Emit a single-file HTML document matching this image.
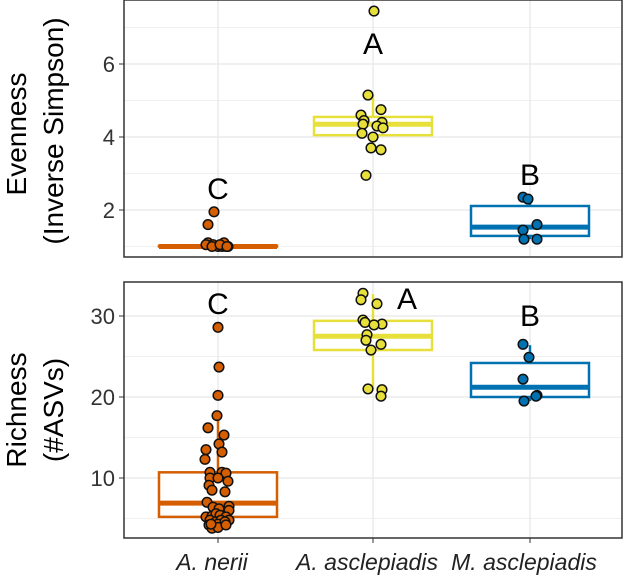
<!DOCTYPE html>
<html><head><meta charset="utf-8"><style>
html,body{margin:0;padding:0;background:#fff;}
svg{display:block;font-family:"Liberation Sans",Arial,sans-serif;}
</style></head><body>
<svg id="chart" width="629" height="580" viewBox="0 0 629 580" xmlns="http://www.w3.org/2000/svg"></svg>
<script>
const categories = ["A. nerii", "A. asclepiadis", "M. asclepiadis"];
const colors = ["#D55E00", "#E8E03A", "#0072B2"];
// Evenness panel
const evenTicks = [2, 4, 6];
const evenBoxes = [ // [lowWhisker, q1, median, q3, highWhisker]
  [1.0, 1.0, 1.0, 1.02, 1.05],
  [3.65, 4.05, 4.35, 4.55, 5.15],
  [1.2, 1.29, 1.53, 2.11, 2.35]
];
const evenPoints = [
  [1.95, 1.6, 1.1, 1.05, 1.0, 1.0, 1.0, 1.05, 1.1, 1.0, 1.0, 1.05, 1.0],
  [7.45, 5.15, 4.75, 4.6, 4.45, 4.4, 4.35, 4.3, 4.25, 4.1, 4.0, 3.7, 3.65, 2.95],
  [2.35, 2.3, 1.6, 1.45, 1.2, 1.2]
];
const evenJitter = [
  [-4, -10, -10, -5, 0, 4, 8, -12, 6, 10, -6, 2, 9],
  [1, -5, 8, -12, -9, 9, -10, 4, 10, -11, 0, -2, 8, -7],
  [-7, -2, 7, -7, -6, 7]
];
const evenLetters = ["C", "A", "B"];
const evenLetterVals = [2.6, 6.58, 2.99];
// Richness panel
const richTicks = [10, 20, 30];
const richBoxes = [
  [3.6, 5.2, 6.9, 10.7, 17.4],
  [20.8, 25.8, 27.5, 29.4, 32.7],
  [19.5, 20.0, 21.2, 24.2, 26.4]
];
const richPoints = [
  [28.6, 23.7, 20.2, 17.7, 16.2, 15.3, 14.2, 13.2, 13.5, 12.3, 10.7, 10.7, 10.6, 10.0, 10.0, 9.6, 9.1, 8.5, 8.3, 7.0, 6.4, 6.2, 6.5, 6.0, 5.2, 5.3, 5.6, 5.4, 5.2, 4.8, 4.6, 4.8, 4.8, 4.2, 4.3, 4.6, 3.8, 3.9, 4.2, 4.3],
  [32.8, 32.0, 31.5, 29.5, 29.2, 29.0, 28.9, 27.7, 27.0, 26.5, 25.8, 21.0, 20.9, 20.1],
  [26.5, 24.9, 22.2, 20.2, 20.1, 19.5]
];
const richJitter = [
  [0, 1, 0, -1, -10, 6, 1, 4, -12, -13, -8, 4, 8, -8, 0, 10, -9, -6, 7, -11, -5, 1, 11, 11, -12, -6, -2, 2, 8, -8, -2, 3, 11, -9, 0, 7, -6, 0, 8, -7],
  [-10, -12, 4, -10, -8, 9, 1, -6, -7, 8, -2, -5, 9, 8],
  [-7, -1, -7, 7, 6, -6]
];
const richLetters = ["C", "A", "B"];
const richLetterVals = [31.6, 32.2, 30.1];

const NS = "http://www.w3.org/2000/svg";
const svg = document.getElementById("chart");
function mk(tag, attrs, parent) {
  const e = document.createElementNS(NS, tag);
  for (const k in attrs) e.setAttribute(k, attrs[k]);
  (parent || svg).appendChild(e);
  return e;
}
const X0 = 124, X1 = 622;
const catX = [218, 373, 530];
const xScale = i => catX[i];
const halfW = 59;

function panel(name, top, bottom, yScale, ticks, minor, boxes, points, jitter, letters, letterVals, titles) {
  const g = mk("g", {});
  
  
  minor.forEach(v => {
    const l = mk("line", {x1: X0, x2: X1, y1: yScale(v), y2: yScale(v), stroke: "#ebebeb", "stroke-width": 0.8}, g);
    
    
  });
  ticks.forEach(v => {
    const l = mk("line", {x1: X0, x2: X1, y1: yScale(v), y2: yScale(v), stroke: "#ebebeb", "stroke-width": 1.5}, g);
    
    
    const t = mk("line", {x1: 119, x2: X0, y1: yScale(v), y2: yScale(v), stroke: "#333", "stroke-width": 1}, g);
    
    
    const tx = mk("text", {x: 115, y: yScale(v) + 8, "text-anchor": "end", "font-size": 22, fill: "#333"}, g);
    tx.textContent = v;
    
    
  });
  catX.forEach(x => {
    const l = mk("line", {x1: x, x2: x, y1: top, y2: bottom, stroke: "#ebebeb", "stroke-width": 1.5}, g);
    
    
  });
  boxes.forEach((b, i) => {
    const cx = xScale(i), c = colors[i];
    const wl = mk("line", {x1: cx, x2: cx, y1: yScale(b[0]), y2: yScale(b[1]), stroke: c, "stroke-width": 2.5}, g);
    
    
    const wh = mk("line", {x1: cx, x2: cx, y1: yScale(b[3]), y2: yScale(b[4]), stroke: c, "stroke-width": 2.5}, g);
    
    
    const h = Math.max(yScale(b[1]) - yScale(b[3]), 0.1);
    const r = mk("rect", {x: cx - halfW, y: yScale(b[3]), width: 2 * halfW, height: h, fill: "#fff", stroke: c, "stroke-width": 2.5}, g);
    
    
    const m = mk("line", {x1: cx - halfW, x2: cx + halfW, y1: yScale(b[2]), y2: yScale(b[2]), stroke: c, "stroke-width": 5}, g);
    
    
  });
  points.forEach((arr, i) => {
    arr.forEach((v, j) => {
      const p = mk("circle", {cx: xScale(i) + jitter[i][j], cy: yScale(v), r: 4.8, fill: colors[i], stroke: "#111", "stroke-width": 1.5}, g);
      
      
    });
  });
  letters.forEach((L, i) => {
    const dx = (name === 'richness' && i === 1) ? 34 : 0;
    const t = mk("text", {x: xScale(i) + dx, y: yScale(letterVals[i]) + 11, "text-anchor": "middle", "font-size": 30, fill: "#000"}, g);
    t.textContent = L;
    
    
  });
  const fr = mk("rect", {x: X0, y: top, width: X1 - X0, height: bottom - top, fill: "none", stroke: "#333", "stroke-width": 1.5}, g);
  
  
  titles.forEach(tt => {
    const t = mk("text", {transform: "translate(" + tt[1] + "," + tt[2] + ") rotate(-90)", "text-anchor": "middle", "font-size": 28, fill: "#000"}, g);
    t.textContent = tt[0];
    
    
  });
}
const yEven = v => 210 - (v - 2) * 36.5;
const yRich = v => 478 - (v - 10) * 8.1;
panel('evenness', 0, 257, yEven, evenTicks, [1, 3, 5, 7], evenBoxes, evenPoints, evenJitter, evenLetters, evenLetterVals,
  [["Evenness", 26, 134], ["(Inverse Simpson)", 63, 131]]);
panel('richness', 282, 538, yRich, richTicks, [5, 15, 25], richBoxes, richPoints, richJitter, richLetters, richLetterVals,
  [["Richness", 26, 410], ["(#ASVs)", 63, 410]]);
categories.forEach((c, i) => {
  const t = mk("line", {x1: xScale(i), x2: xScale(i), y1: 538, y2: 543, stroke: "#333", "stroke-width": 1});
  
  
  const tx = mk("text", {x: xScale(i) - 6, y: 570, "text-anchor": "middle", "font-size": 23, "font-style": "italic", fill: "#222"});
  tx.textContent = c;
  
  
});
</script>
</body></html>
